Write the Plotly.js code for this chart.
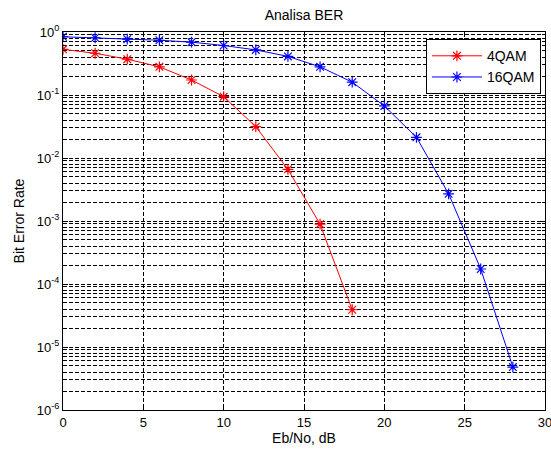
<!DOCTYPE html>
<html>
<head>
<meta charset="utf-8">
<script src="https://cdn.plot.ly/plotly-3.0.1.min.js"></script>
<style>html,body{margin:0;padding:0;background:#fff;}#chart{width:551px;height:450px;}</style>
</head>
<body>
<div id="chart"></div>
<script>
const ebno = [0, 2, 4, 6, 8, 10, 12, 14, 16, 18, 20, 22, 24, 26, 28];
const ber4qam = [0.53, 0.46, 0.37, 0.28, 0.173, 0.094, 0.0314, 0.0066, 0.00089, 0.000039];
const ber16qam = [0.84, 0.81, 0.77, 0.74, 0.69, 0.61, 0.52, 0.41, 0.28, 0.16, 0.067, 0.0213, 0.0027, 0.000173, 0.0000048];
const seriesNames = ['4QAM', '16QAM'];
const yTickVals = [1e-6, 1e-5, 1e-4, 1e-3, 1e-2, 1e-1, 1];
const yTickText = ['10<sup>-6</sup>', '10<sup>-5</sup>', '10<sup>-4</sup>', '10<sup>-3</sup>', '10<sup>-2</sup>', '10<sup>-1</sup>', '10<sup>0</sup>'];
const xTickVals = [0, 5, 10, 15, 20, 25, 30];

const fam = 'Liberation Sans, Arial, sans-serif';
const gridDash = '4px,2px';

const traces = [
  {x: ebno.slice(0, ber4qam.length), y: ber4qam, name: seriesNames[0], mode: 'lines+markers',
   line: {color: 'rgb(255,0,0)', width: 1},
   marker: {symbol: 'asterisk-open', size: 9, color: 'rgb(255,0,0)', line: {color: 'rgb(255,0,0)', width: 1.2}}},
  {x: ebno.slice(0, ber16qam.length), y: ber16qam, name: seriesNames[1], mode: 'lines+markers',
   line: {color: 'rgb(0,0,255)', width: 1},
   marker: {symbol: 'asterisk-open', size: 9, color: 'rgb(0,0,255)', line: {color: 'rgb(0,0,255)', width: 1.2}}}
];

const layout = {
  width: 551, height: 450,
  margin: {l: 63, r: 6, t: 32, b: 40},
  paper_bgcolor: '#fff', plot_bgcolor: '#fff',
  font: {family: fam, size: 13, color: '#000'},
  title: {text: 'Analisa BER', font: {family: fam, size: 14, color: '#000'}, x: 0.5, xref: 'paper', y: 0.967, yref: 'container', yanchor: 'middle'},
  showlegend: true,
  legend: {x: 0.753, y: 0.981, xanchor: 'left', yanchor: 'top', bgcolor: '#fff', bordercolor: '#000', borderwidth: 1,
           font: {family: fam, size: 14, color: '#000'}, tracegroupgap: 0, itemwidth: 50},
  xaxis: {
    range: [0, 30], tickvals: xTickVals, ticktext: xTickVals.map(String),
    showline: true, linecolor: '#000', linewidth: 1, mirror: 'ticks',
    ticks: 'inside', ticklen: 5, tickcolor: '#000',
    showgrid: true, gridcolor: '#000', griddash: gridDash, gridwidth: 1,
    zeroline: false, ticklabeloverflow: 'allow',
    tickfont: {family: fam, size: 13, color: '#000'},
    title: {text: 'Eb/No, dB', font: {family: fam, size: 14, color: '#000'}, standoff: 4}
  },
  yaxis: {
    type: 'log', range: [-6, 0], tickvals: yTickVals, ticktext: yTickText,
    showline: true, linecolor: '#000', linewidth: 1, mirror: 'ticks',
    ticks: 'inside', ticklen: 5, tickcolor: '#000',
    showgrid: true, gridcolor: '#000', griddash: gridDash, gridwidth: 1,
    zeroline: false,
    minor: {dtick: 'D1', showgrid: true, gridcolor: '#000', griddash: gridDash, gridwidth: 1, ticks: 'inside', ticklen: 3, tickcolor: '#000'},
    tickfont: {family: fam, size: 13, color: '#000'},
    title: {text: 'Bit Error Rate', font: {family: fam, size: 14, color: '#000'}, standoff: 8}
  }
};

Plotly.newPlot('chart', traces, layout, {displayModeBar: false, staticPlot: true});
</script>
</body>
</html>
